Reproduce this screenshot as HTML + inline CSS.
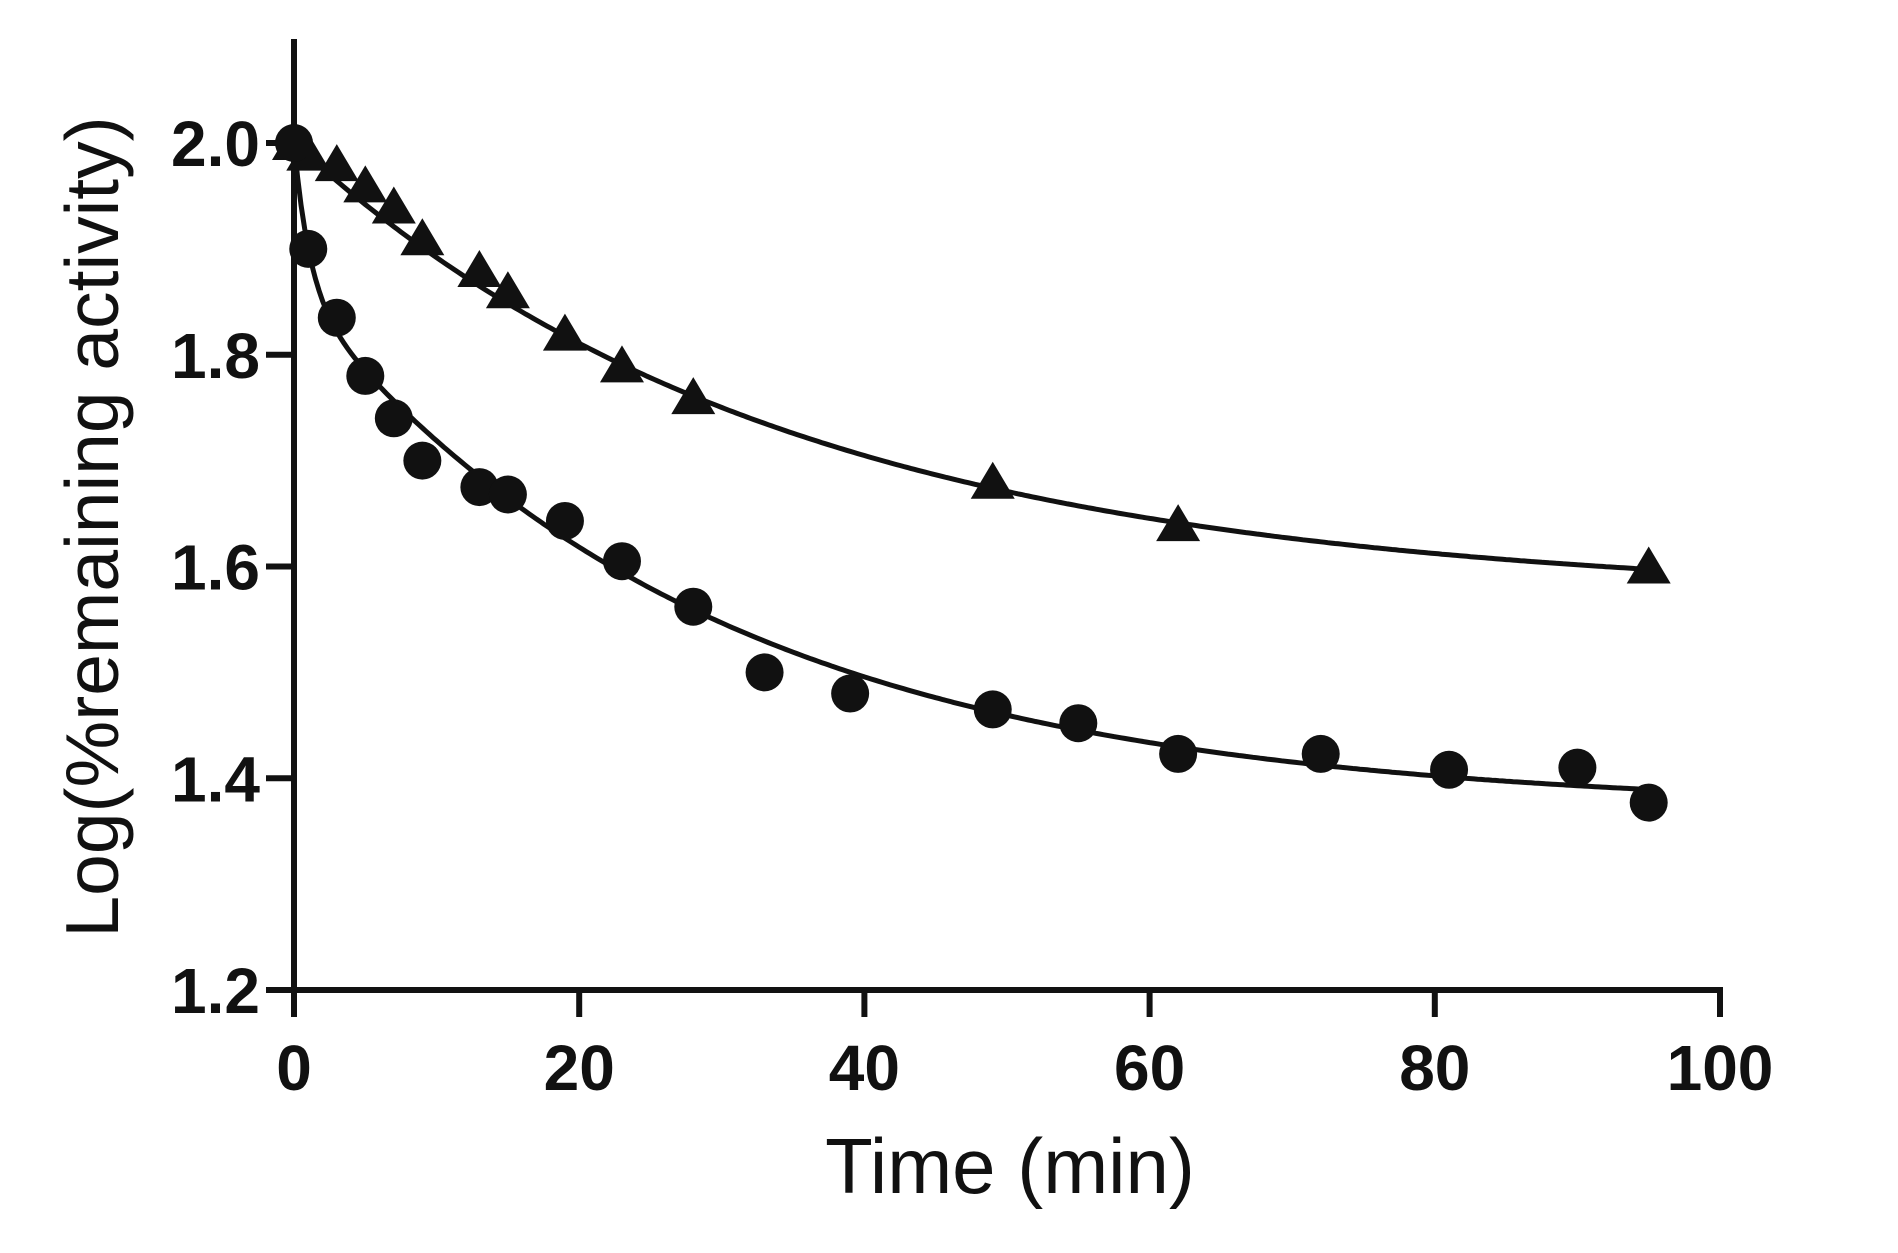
<!DOCTYPE html>
<html><head><meta charset="utf-8"><style>
html,body{margin:0;padding:0;background:#fff;}
svg text{font-family:"Liberation Sans",Arial,sans-serif;fill:#111;}
</style></head><body>
<svg id="chart" width="1898" height="1248" viewBox="0 0 1898 1248" xmlns="http://www.w3.org/2000/svg">
<g id="axes"></g>
<g id="curves"></g>
<g id="marks"></g>
<text x="1010" y="1193" font-size="78" text-anchor="middle">Time (min)</text>
<text transform="translate(118,527) rotate(-90)" font-size="75" text-anchor="middle">Log(%remaining activity)</text>
</svg>
<script>
const xTicks=[0,20,40,60,80,100];
const yTicks=[1.2,1.4,1.6,1.8,2.0];
const triX=[0,1,3,5,7,9,13,15,19,23,28,49,62,95];
const triY=[2.0,1.99,1.98,1.96,1.94,1.91,1.88,1.86,1.82,1.79,1.76,1.68,1.64,1.60];
const cirX=[0,1,3,5,7,9,13,15,19,23,28,33,39,49,55,62,72,81,90,95];
const cirY=[2.0,1.90,1.835,1.78,1.74,1.70,1.675,1.668,1.643,1.605,1.562,1.50,1.48,1.465,1.452,1.423,1.423,1.408,1.41,1.377];
const NS="http://www.w3.org/2000/svg";
const X=v=>294+(v/100)*(1720-294);
const Y=v=>990-(v-1.2)/0.8*(990-143);
function mk(p,t,a){const e=document.createElementNS(NS,t);for(const k in a)e.setAttribute(k,a[k]);p.appendChild(e);return e;}
const ax=document.getElementById('axes');
let l=mk(ax,'line',{x1:294,y1:39,x2:294,y2:993,stroke:'#111','stroke-width':6});


l=mk(ax,'line',{x1:291,y1:990,x2:1723,y2:990,stroke:'#111','stroke-width':6});


yTicks.forEach(v=>{
 const t=mk(ax,'line',{x1:266,y1:Y(v),x2:294,y2:Y(v),stroke:'#111','stroke-width':6});
 
 
 const s=mk(ax,'text',{x:260,y:Y(v)+23,'font-size':64,'font-weight':'bold','text-anchor':'end'});
 s.textContent=v.toFixed(1);
 
 
});
xTicks.forEach(v=>{
 const t=mk(ax,'line',{x1:X(v),y1:990,x2:X(v),y2:1017,stroke:'#111','stroke-width':6});
 
 
 const s=mk(ax,'text',{x:X(v),y:1090,'font-size':64,'font-weight':'bold','text-anchor':'middle'});
 s.textContent=v;
 
 
});
const cv=document.getElementById('curves');
const fTri=t=>1.57+0.43*Math.exp(-0.029*t);
const fCir=t=>1.37+0.14*Math.exp(-0.9*t)+0.49*Math.exp(-0.034*t);
[[fTri,'triangle-fit-curve'],[fCir,'circle-fit-curve']].forEach(([f,n])=>{
 let d='';for(let t=0;t<=95;t+=0.25)d+=(t?'L':'M')+X(t).toFixed(1)+','+Y(f(t)).toFixed(1);
 const p=mk(cv,'path',{d:d,fill:'none',stroke:'#111','stroke-width':5});
 
 
});
const mg=document.getElementById('marks');
triX.forEach((x,i)=>{
 const cx=X(x),cy=Y(triY[i]);
 const p=mk(mg,'polygon',{points:`${cx},${cy-20} ${cx-22},${cy+17} ${cx+22},${cy+17}`,fill:'#111'});
 
 
});
cirX.forEach((x,i)=>{
 const c=mk(mg,'circle',{cx:X(x),cy:Y(cirY[i]),r:19,fill:'#111'});
 
 
});
</script>
</body></html>
